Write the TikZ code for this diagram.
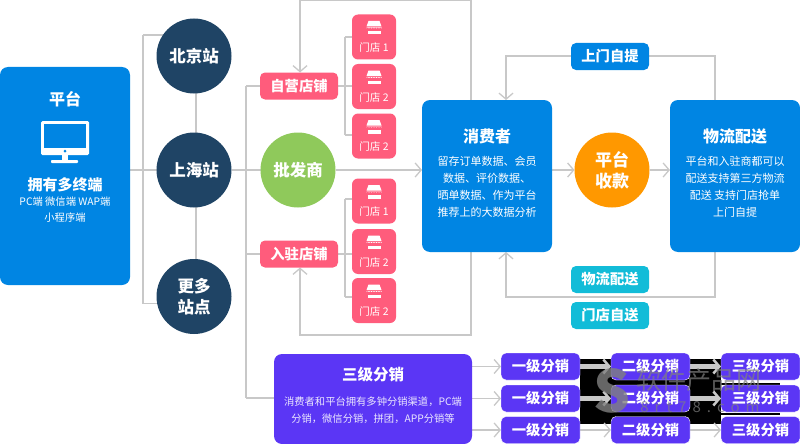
\documentclass[tikz,border=0pt]{standalone}
\usepackage{fontspec}
\setmainfont{Noto Sans CJK SC}
\usetikzlibrary{arrows.meta,backgrounds}
\definecolor{cblue}{HTML}{0085E3}
\definecolor{cnavy}{HTML}{1F4465}
\definecolor{cgreen}{HTML}{8FC95B}
\definecolor{cpink}{HTML}{FF5C7C}
\definecolor{corange}{HTML}{FF9800}
\definecolor{ccyan}{HTML}{12BCD8}
\definecolor{cpurple}{HTML}{5B36F5}
\definecolor{cline}{HTML}{C8C8C8}
\tikzset{
  x=1pt,y=-1pt,
  bigbox/.style={rounded corners=8pt,inner sep=0pt,outer sep=0pt},
  bluebox/.style={bigbox,fill=cblue,minimum width=130pt,minimum height=152pt},
  circ/.style={circle,minimum size=75pt,inner sep=0pt,outer sep=0pt,text=white,align=center,font=\fontsize{16.5}{21}\selectfont\bfseries},
  tagbox/.style={rounded corners=5pt,inner sep=0pt,outer sep=0pt,minimum width=78pt,minimum height=27pt,text=white,font=\fontsize{14.3}{17}\selectfont\bfseries},
  dist/.style={tagbox,fill=cpurple,draw=white,line width=.4pt,minimum width=79pt},
  storebox/.style={rounded corners=6pt,fill=cpink,inner sep=0pt,outer sep=0pt,minimum width=44pt,minimum height=45pt},
  storelabel/.style={text=white,inner sep=0pt,font=\fontsize{10.5}{12}\selectfont},
  head/.style={text=white,inner sep=0pt,font=\fontsize{16}{20}\selectfont\bfseries},
  body/.style={text=white,inner sep=0pt,align=center,font=\fontsize{11}{17}\selectfont},
  conn/.style={draw=cline,line width=1.4pt},
  arr/.style={conn,-{Straight Barb[length=6pt,width=14pt,line width=1.3pt]}},
  fat/.style={draw=cline,line width=5pt,-{Straight Barb[length=6pt,width=14pt,line width=2.5pt]}},
}
\newcommand{\storeicon}[2]{%
  \fill[white] (#1-5.5,#2-1) -- (#1+5.5,#2-1) -- (#1+7.5,#2+4.5) -- (#1-7.5,#2+4.5) -- cycle;
  \fill[white] (#1-7.5,#2+5.5) -- (#1+7.5,#2+5.5) -- (#1+7.5,#2+6.5)
     arc[start angle=0,end angle=-180,x radius=1.25pt,y radius=-1.2pt] arc[start angle=0,end angle=-180,x radius=1.25pt,y radius=-1.2pt]
     arc[start angle=0,end angle=-180,x radius=1.25pt,y radius=-1.2pt] arc[start angle=0,end angle=-180,x radius=1.25pt,y radius=-1.2pt]
     arc[start angle=0,end angle=-180,x radius=1.25pt,y radius=-1.2pt] arc[start angle=0,end angle=-180,x radius=1.25pt,y radius=-1.2pt] -- cycle;
  \fill[white] (#1-6.5,#2+9) rectangle (#1+6.5,#2+12.5);
}
\begin{document}
\begin{tikzpicture}
\useasboundingbox (0,0) rectangle (800,444);
% main boxes
\node[bigbox,fill=cblue,minimum width=130pt,minimum height=218pt] (plat) at (65,176) {};
\node[head] (platt) at (65,99) {平台};
\node[text=white,inner sep=0pt,font=\fontsize{15}{18}\selectfont\bfseries] (platm) at (65,185) {拥有多终端};
\node[body,font=\fontsize{10.3}{16}\selectfont] (platb) at (65,210) {PC端 微信端 WAP端\\小程序端};
% monitor icon
\fill[white,rounded corners=1.5pt] (41,121) rectangle (89,155);
\fill[cblue] (44,124) rectangle (86,148);
\fill[cblue] (65,151) circle (1.5);
\fill[white] (62,155) rectangle (68,160);
\fill[white,rounded corners=.8pt] (51,160) rectangle (78,163);
% circles
\node[circ,fill=cnavy] (bj) at (194,56) {北京站};
\node[circ,fill=cnavy] (sh) at (194,170) {上海站};
\node[circ,fill=cnavy] (more) at (194,296.5) {更多\\站点};
\node[circ,fill=cgreen] (pf) at (298,170) {批发商};
\node[circ,fill=corange,font=\fontsize{17}{21}\selectfont\bfseries] (pay) at (612,170) {平台\\收款};
% shops
\node[tagbox,fill=cpink] (self) at (299,86) {自营店铺};
\node[tagbox,fill=cpink] (join) at (299,254) {入驻店铺};
\foreach \n/\yy/\lab in {s1/37/门店 1,s2/86.5/门店 2,s3/136/门店 2,s4/201/门店 1,s5/251.5/门店 2,s6/300.5/门店 2}{
  \node[storebox] (\n) at (374,\yy) {};
  \storeicon{374}{\yy-15}
  \node[storelabel] (\n t) at (374,\yy+11) {\lab};
}
% consumer, logistics
\node[bluebox] (cons) at (487,176) {};
\node[head] (const) at (487,136) {消费者};
\node[body] (consb) at (487,186.5) {留存订单数据、会员\\数据、评价数据、\\晒单数据、作为平台\\推荐上的大数据分析};
\node[bluebox] (logi) at (735,176) {};
\node[head] (logit) at (735,136) {物流配送};
\node[body] (logib) at (735,186.5) {平台和入驻商都可以\\配送支持第三方物流\\配送 支持门店抢单\\上门自提};
% tags
\node[tagbox,fill=cblue] (pick) at (610,56.5) {上门自提};
\node[tagbox,fill=ccyan] (ship) at (610,279.5) {物流配送};
\node[tagbox,fill=ccyan] (sto) at (610,315.5) {门店自送};
% distribution
\node[bigbox,fill=cpurple,minimum width=198pt,minimum height=90pt] (dist) at (373,399) {};
\node[head,font=\fontsize{15.5}{20}\selectfont\bfseries] (distt) at (373,375) {三级分销};
\node[body,font=\fontsize{10.3}{17.5}\selectfont,text=white!88!cpurple] (distb) at (373,410) {消费者和平台拥有多钟分销渠道，PC端\\分销，微信分销，拼团，APP分销等};
\foreach \r/\yy in {1/366.5,2/398.5,3/430}{
  \node[dist] (a\r) at (540.5,\yy) {一级分销};
  \node[dist] (b\r) at (650.5,\yy) {二级分销};
  \node[dist] (c\r) at (760.5,\yy) {三级分销};
}
% junctions
\coordinate (jt) at (143,35);
\coordinate (jb) at (143,303.5);
\coordinate (vt) at (246,86);
\coordinate (vj) at (246,254);
\coordinate (vb) at (246,398);
\coordinate (top1) at (471,0.7);
\coordinate (top2) at (300,0.7);
\coordinate (bot1) at (471,335);
\coordinate (bot2) at (300,335);
\coordinate (r1) at (715,56);
\coordinate (l1) at (506,56);
\coordinate (r2) at (715,297);
\coordinate (l2) at (506,297);
\coordinate (sa) at (345,86);
\coordinate (sb) at (345,254);
\coordinate (st1) at (345,37);
\coordinate (st3) at (345,135);
\coordinate (st4) at (345,199);
\coordinate (st6) at (345,297);
\coordinate (cv) at (196,170);
\begin{pgfonlayer}{background}
  % artefact area behind the lower rows
  \fill[black] (580,359) rectangle (721,424);
  \fill[black] (721,383) rectangle (780,384.6);
  \fill[black] (721,413) rectangle (780,415);
  \draw[conn] (plat.east |- sh) -- (sh);
  \draw[conn] (jt) -- (jb);
  \draw[conn] (jt) -- (jt -| bj);
  \draw[conn] (jb) -- (jb -| more);
  \draw[conn] (cv |- bj) -- (cv |- more);
  \draw[conn] (sh) -- (pf);
  \draw[conn] (vt) -- (vb);
  \draw[conn] (vt) -- (self.west |- vt);
  \draw[conn] (vj) -- (join.west |- vj);
  \draw[conn] (vb) -- (dist.west |- vb);
  \draw[arr] (pf) -- (cons.west |- pf);
  \draw[arr] (cons.north -| top1) -- (top1) -- (top2) -- (self.north -| top2);
  \draw[arr] (cons.south -| bot1) -- (bot1) -- (bot2) -- (join.south -| bot2);
  \draw[conn] (self.east) -- (sa);
  \draw[conn] (st1) -- (st3);
  \draw[conn] (st1) -- (s1.west |- st1);
  \draw[conn] (st3) -- (s3.west |- st3);
  \draw[conn] (sa) -- (s2.west |- sa);
  \draw[conn] (join.east |- sb) -- (sb);
  \draw[conn] (st4) -- (st6);
  \draw[conn] (st4) -- (s4.west |- st4);
  \draw[conn] (st6) -- (s6.west |- st6);
  \draw[conn] (sb) -- (s5.west |- sb);
  \draw[arr] (cons.east |- pay) -- (pay);
  \draw[arr] (pay) -- (logi.west |- pay);
  \draw[conn] (logi.north -| r1) -- (r1) -- (pick.east |- r1);
  \draw[arr] (pick.west |- l1) -- (l1) -- (cons.north -| l1);
  \draw[arr] (logi.south -| r2) -- (r2) -- (l2) -- (cons.south -| l2);
  \foreach \r in {1,2,3} {\draw[arr] (dist.east |- a\r) -- (a\r.west);}
  \foreach \r in {1,2} {
    \draw[fat] (a\r.east) -- (b\r.west);
    \draw[fat] (b\r.east) -- (c\r.west);
  }
  \draw[arr] (a3.east) -- (b3.west);
  \draw[arr] (b3.east) -- (c3.west);
\end{pgfonlayer}
% watermark
\node[inner sep=0pt,text=gray,opacity=.8,font=\fontsize{58}{60}\selectfont\bfseries] (wms) at (612,391) {S};
\node[inner sep=0pt,text=gray,opacity=.7,font=\fontsize{25}{28}\selectfont] (wmt) at (699,380) {软件产品网};
\node[inner sep=0pt,text=gray,opacity=.7,font=\fontsize{15}{18}\selectfont] (wmu) at (700,407) {8\hspace{6pt}r\hspace{6pt}t\hspace{6pt}7\hspace{6pt}8\hspace{6pt}.\hspace{6pt}c\hspace{6pt}o\hspace{6pt}m};
\end{tikzpicture}
\end{document}
